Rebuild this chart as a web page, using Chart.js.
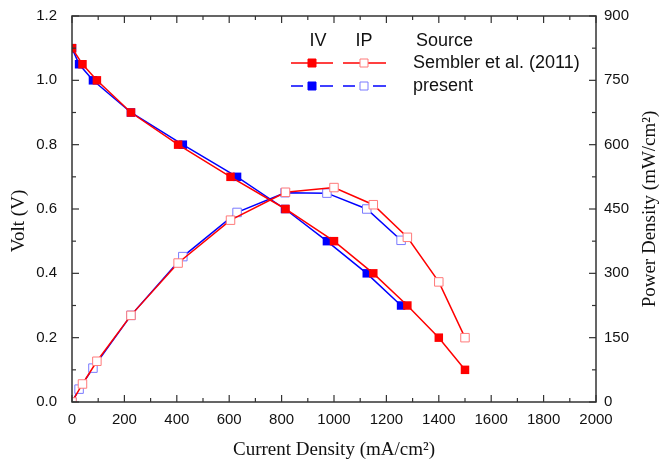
<!DOCTYPE html>
<html>
<head>
<meta charset="utf-8">
<script src="https://cdn.jsdelivr.net/npm/chart.js@4.4.0/dist/chart.umd.min.js"></script>
<style>
  body { margin: 0; background: #fff; }
</style>
</head>
<body>
<canvas id="polarCurve" width="661" height="463"></canvas>
<script>
// Sembler et al. (2011)
const semblerCurrent = [0, 40, 95, 225, 405, 605, 815, 1000, 1150, 1280, 1400, 1500];
const semblerVolt = [1.1, 1.05, 1.0, 0.9, 0.8, 0.7, 0.6, 0.5, 0.4, 0.3, 0.2, 0.1];
const semblerPower = [0, 42, 95, 202, 324, 424, 489, 500, 460, 384, 280, 150];

// present
const presentCurrent = [0, 27, 80, 225, 423, 630, 813, 973, 1125, 1256];
const presentVolt = [1.1, 1.05, 1.0, 0.9, 0.8, 0.7, 0.6, 0.5, 0.4, 0.3];
const presentPower = [0, 30, 79, 202, 339, 442, 488, 487, 450, 377];

const xTitle = 'Current Density (mA/cm\u00B2)';
const yTitle = 'Volt (V)';
const y1Title = 'Power Density (mW/cm\u00B2)';

const sans = "'Liberation Sans', Arial, sans-serif";
const serif = "'Liberation Serif', 'Times New Roman', serif";
const RED = '#ff0000', BLUE = '#0000ff';
const RED_LIGHT = '#ff7a7a', BLUE_LIGHT = '#7a7aff';

function pairs(xs, ys) {
    return xs.map((x, i) => ({x: x, y: ys[i]}));
}

// frame + inward ticks on all four sides, y titles, and the IV / IP / Source legend table
const frameAndLegend = {
    id: 'frameAndLegend',
    afterDraw(chart) {
        const {ctx, chartArea: a, scales} = chart;
        ctx.save();
        ctx.strokeStyle = '#333';
        ctx.lineWidth = 1.5;
        ctx.strokeRect(a.left, a.top, a.right - a.left, a.bottom - a.top);

        const seg = (x1, y1, x2, y2) => {
            ctx.beginPath(); ctx.moveTo(x1, y1); ctx.lineTo(x2, y2); ctx.stroke();
        };
        ctx.lineWidth = 1.2;
        const xs = scales.x.ticks.map(t => t.value);
        xs.forEach((v, i) => {
            const px = scales.x.getPixelForValue(v);
            seg(px, a.bottom, px, a.bottom - 7);
            seg(px, a.top, px, a.top + 7);
            if (i < xs.length - 1) {
                const m = scales.x.getPixelForValue((v + xs[i + 1]) / 2);
                seg(m, a.bottom, m, a.bottom - 4);
                seg(m, a.top, m, a.top + 4);
            }
        });
        const ys = scales.y.ticks.map(t => t.value);
        ys.forEach((v, i) => {
            const py = scales.y.getPixelForValue(v);
            seg(a.left, py, a.left + 7, py);
            if (i < ys.length - 1) {
                const m = scales.y.getPixelForValue((v + ys[i + 1]) / 2);
                seg(a.left, m, a.left + 4, m);
            }
        });
        const y1s = scales.y1.ticks.map(t => t.value);
        y1s.forEach((v, i) => {
            const py = scales.y1.getPixelForValue(v);
            seg(a.right, py, a.right - 7, py);
            if (i < y1s.length - 1) {
                const m = scales.y1.getPixelForValue((v + y1s[i + 1]) / 2);
                seg(a.right, m, a.right - 4, m);
            }
        });

        // both y titles read bottom to top
        const sideTitle = (text, x, y) => {
            ctx.save();
            ctx.fillStyle = '#111';
            ctx.font = '19px ' + serif;
            ctx.textAlign = 'center';
            ctx.textBaseline = 'middle';
            ctx.translate(x, y);
            ctx.rotate(-Math.PI / 2);
            ctx.fillText(text, 0, 0);
            ctx.restore();
        };
        sideTitle(yTitle, 19, 221);
        sideTitle(y1Title, 650, 209);

        // legend table
        ctx.fillStyle = '#111';
        ctx.font = '18px ' + sans;
        ctx.textBaseline = 'middle';
        ctx.textAlign = 'center';
        ctx.fillText('IV', 318, 41);
        ctx.fillText('IP', 364, 41);
        ctx.textAlign = 'left';
        ctx.fillText('Source', 416, 41);
        ctx.fillText('Sembler et al. (2011)', 413, 63);
        ctx.fillText('present', 413, 86);

        ctx.lineWidth = 1.5;
        const mark = (cx, cy, stroke, fill) => {
            ctx.fillStyle = fill;
            ctx.strokeStyle = stroke;
            ctx.lineWidth = 1;
            ctx.beginPath();
            ctx.rect(cx - 4, cy - 4, 8, 8);
            ctx.fill(); ctx.stroke();
            ctx.lineWidth = 1.5;
        };
        ctx.strokeStyle = RED;
        seg(291, 63, 333, 63);
        mark(312, 63, RED, RED);
        ctx.strokeStyle = RED;
        seg(343, 63, 386, 63);
        mark(364, 63, RED_LIGHT, '#fff');

        ctx.strokeStyle = BLUE;
        seg(291, 86, 303, 86); seg(320, 86, 333, 86);
        mark(312, 86, BLUE, BLUE);
        ctx.strokeStyle = BLUE;
        seg(343, 86, 355, 86); seg(373, 86, 386, 86);
        mark(364, 86, BLUE_LIGHT, '#fff');
        ctx.restore();
    }
};

const polarCurve = new Chart('polarCurve', {
    type: 'line',
    data: {
        datasets: [
            {
                label: 'IV Sembler et al. (2011)',
                data: pairs(semblerCurrent, semblerVolt),
                yAxisID: 'y',
                borderColor: RED, backgroundColor: RED,
                borderWidth: 1.5,
                pointStyle: 'rect', pointRadius: 6,
                pointBorderColor: RED, pointBackgroundColor: RED, pointBorderWidth: 0
            },
            {
                label: 'IP Sembler et al. (2011)',
                data: pairs(semblerCurrent, semblerPower),
                yAxisID: 'y1',
                borderColor: RED, backgroundColor: '#fff',
                borderWidth: 1.5,
                pointStyle: 'rect', pointRadius: 6,
                pointBorderColor: RED_LIGHT, pointBackgroundColor: '#fff', pointBorderWidth: 1
            },
            {
                label: 'IV present',
                data: pairs(presentCurrent, presentVolt),
                yAxisID: 'y',
                borderColor: BLUE, backgroundColor: BLUE,
                borderWidth: 1.5,
                pointStyle: 'rect', pointRadius: 6,
                pointBorderColor: BLUE, pointBackgroundColor: BLUE, pointBorderWidth: 0
            },
            {
                label: 'IP present',
                data: pairs(presentCurrent, presentPower),
                yAxisID: 'y1',
                borderColor: BLUE, backgroundColor: '#fff',
                borderWidth: 1.5,
                pointStyle: 'rect', pointRadius: 6,
                pointBorderColor: BLUE_LIGHT, pointBackgroundColor: '#fff', pointBorderWidth: 1
            }
        ]
    },
    options: {
        responsive: false,
        animation: false,
        layout: { padding: { top: 16, left: 0, right: 0, bottom: 0 } },
        plugins: {
            legend: { display: false },
            tooltip: { enabled: false }
        },
        scales: {
            x: {
                type: 'linear',
                min: 0, max: 2000,
                grid: { display: false, drawTicks: false },
                border: { display: false },
                ticks: { stepSize: 200, padding: 9, color: '#111', font: { family: sans, size: 15 },
                         callback: v => String(v) },
                title: { display: true, text: xTitle, color: '#111', padding: { top: 2, bottom: 2 },
                         font: { family: serif, size: 19 } },
                afterFit(s) { s.height = 61; }
            },
            y: {
                position: 'left',
                min: 0, max: 1.2,
                grid: { display: false, drawTicks: false },
                border: { display: false },
                ticks: { stepSize: 0.2, padding: 15, color: '#111', font: { family: sans, size: 15 },
                         callback: v => v.toFixed(1) },
                afterFit(s) { s.width = 72; s.paddingTop = 0; s.paddingBottom = 0; }
            },
            y1: {
                position: 'right',
                min: 0, max: 900,
                grid: { display: false, drawTicks: false },
                border: { display: false },
                ticks: { stepSize: 150, padding: 8, color: '#111', font: { family: sans, size: 15 } },
                afterFit(s) { s.width = 65; s.paddingTop = 0; s.paddingBottom = 0; }
            }
        }
    },
    plugins: [frameAndLegend]
});
</script>
</body>
</html>
